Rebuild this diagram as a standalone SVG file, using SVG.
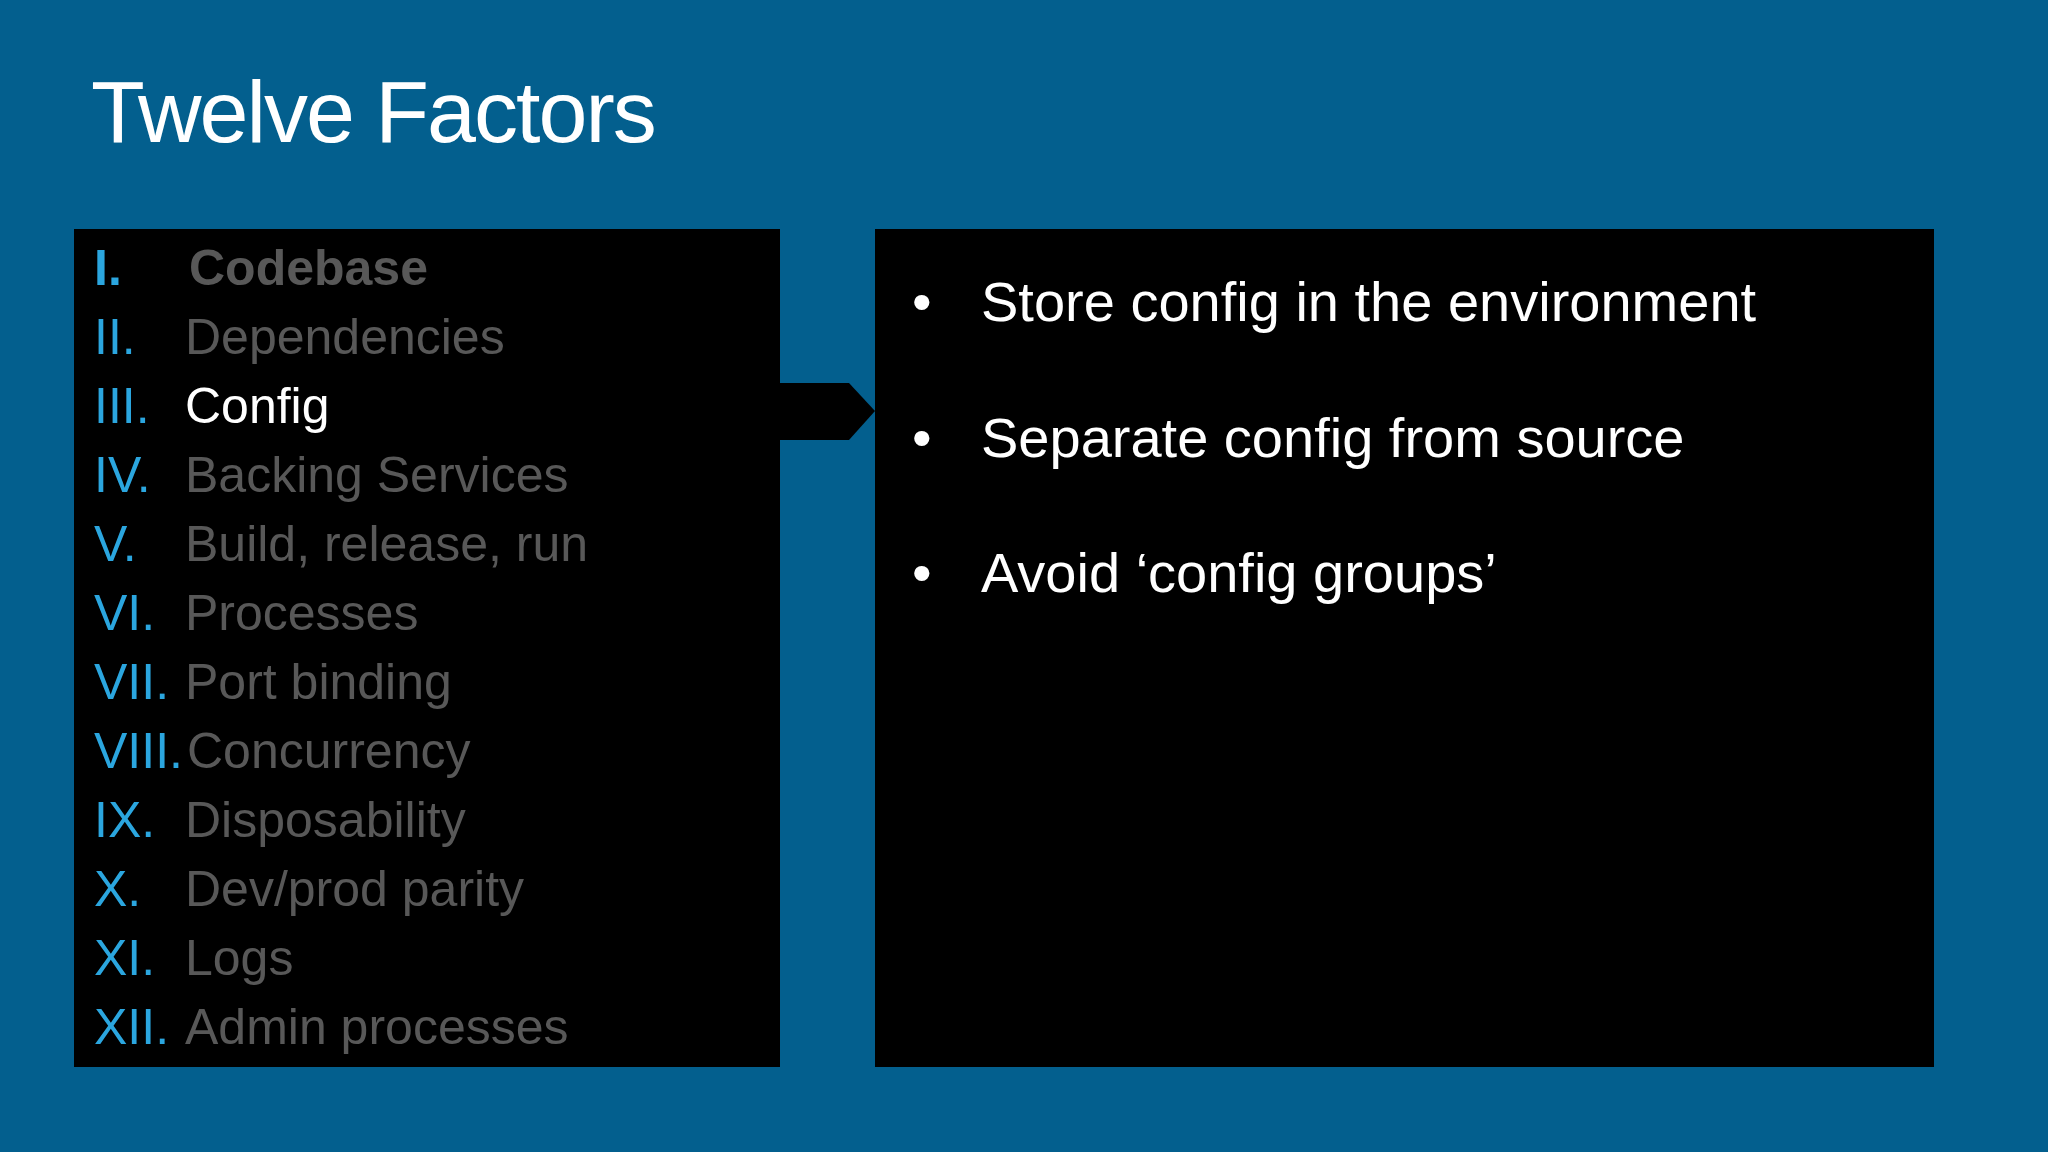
<svg xmlns="http://www.w3.org/2000/svg" width="2048" height="1152" viewBox="0 0 2048 1152">
<style>
text{font-family:"Liberation Sans",Arial,sans-serif}
.n{fill:#2ba6df;font-size:50px}
.g{fill:#585858;font-size:50px}
.b{fill:#ffffff;font-size:56px}
</style>
<rect width="2048" height="1152" fill="#035f8e"/>
<text x="91" y="142" fill="#ffffff" font-size="88" letter-spacing="-2">Twelve Factors</text>
<g id="connectors">
<polygon points="780,383 849,383 875,411 849,440 780,440" fill="#000"/>
</g>
<g id="list">
<rect x="74" y="229" width="706" height="838" fill="#000"/>
<text class="n" x="94" y="285" font-weight="bold">I.</text><text class="g" x="189" y="285" font-weight="bold">Codebase</text>
<text class="n" x="94" y="354">II.</text><text class="g" x="185" y="354">Dependencies</text>
<text class="n" x="94" y="423">III.</text><text x="185" y="423" fill="#fff" font-size="50">Config</text>
<text class="n" x="94" y="492">IV.</text><text class="g" x="185" y="492">Backing Services</text>
<text class="n" x="94" y="561">V.</text><text class="g" x="185" y="561">Build, release, run</text>
<text class="n" x="94" y="630">VI.</text><text class="g" x="185" y="630">Processes</text>
<text class="n" x="94" y="699">VII.</text><text class="g" x="185" y="699">Port binding</text>
<text class="n" x="94" y="768">VIII.</text><text class="g" x="187" y="768">Concurrency</text>
<text class="n" x="94" y="837">IX.</text><text class="g" x="185" y="837">Disposability</text>
<text class="n" x="94" y="906">X.</text><text class="g" x="185" y="906">Dev/prod parity</text>
<text class="n" x="94" y="975">XI.</text><text class="g" x="185" y="975">Logs</text>
<text class="n" x="94" y="1044">XII.</text><text class="g" x="185" y="1044">Admin processes</text>
</g>
<g id="detail">
<rect x="875" y="229" width="1059" height="838" fill="#000"/>
<text class="b" x="912" y="321">•</text><text class="b" x="981" y="321">Store config in the environment</text>
<text class="b" x="912" y="457">•</text><text class="b" x="981" y="457">Separate config from source</text>
<text class="b" x="912" y="592">•</text><text class="b" x="981" y="592">Avoid ‘config groups’</text>
</g>
</svg>
